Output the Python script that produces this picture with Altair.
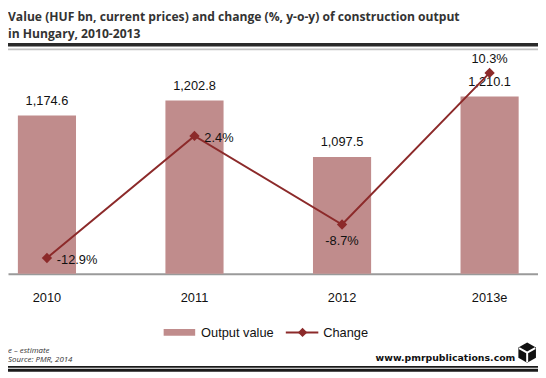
import altair as alt
import pandas as pd

# ---- data ----
years = ["2010", "2011", "2012", "2013e"]
output_value = [1174.6, 1202.8, 1097.5, 1210.1]
change_pct = [-12.9, 2.4, -8.7, 10.3]

title_lines = [
    "Value (HUF bn, current prices) and change (%, y-o-y) of construction output",
    "in Hungary, 2010-2013",
]
legend_labels = ["Output value", "Change"]
footnotes = ["e \u2013 estimate", "Source: PMR, 2014"]
site = "www.pmrpublications.com"

df = pd.DataFrame({
    "year": years,
    "value": output_value,
    "change": change_pct,
    "lbl": [f"{v:.1f}%" for v in change_pct],
})

BAR = "#C08C8C"
LINE = "#8C2A2A"
FONT = "Liberation Sans"

W, H = 538, 227
bar_min = 880
bar_dom = [bar_min, 1296.5]
chg_dom = [-14.88, 13.15]

xenc = alt.X(
    "year:N",
    sort=years,
    scale=alt.Scale(paddingInner=0.606, paddingOuter=0.099, align=0.338),
    axis=alt.Axis(
        title=None, labelAngle=0, ticks=False, tickSize=0, grid=False,
        domainColor="#9a9a9a", domainWidth=2, labelPadding=18,
        labelFont=FONT, labelFontSize=13, labelColor="#111",
    ),
)
ybar = alt.Y("value:Q", scale=alt.Scale(domain=bar_dom, nice=False, zero=False), axis=None)
ychg = alt.Y("change:Q", scale=alt.Scale(domain=chg_dom, nice=False, zero=False), axis=None)

base = alt.Chart(df)

bars = base.mark_bar(color=BAR).encode(x=xenc, y=ybar, y2=alt.datum(bar_min))
bar_text = base.mark_text(
    baseline="middle", dy=-15, font=FONT, fontSize=13, color="#111"
).encode(x=xenc, y=ybar, text=alt.Text("value:Q", format=",.1f"))

line = base.mark_line(color=LINE, strokeWidth=2).encode(x=xenc, y=ychg)
pts = base.mark_point(shape="diamond", filled=True, size=110, color=LINE, opacity=1).encode(x=xenc, y=ychg)

lab_right = base.transform_filter(
    alt.FieldOneOfPredicate(field="year", oneOf=[years[0], years[1]])
).mark_text(align="left", baseline="middle", dx=10, dy=2, font=FONT, fontSize=13, color="#111").encode(
    x=xenc, y=ychg, text="lbl:N")
lab_below = base.transform_filter(
    alt.FieldEqualPredicate(field="year", equal=years[2])
).mark_text(align="center", baseline="middle", dy=17, font=FONT, fontSize=13, color="#111").encode(
    x=xenc, y=ychg, text="lbl:N")
lab_above = base.transform_filter(
    alt.FieldEqualPredicate(field="year", equal=years[3])
).mark_text(align="center", baseline="middle", dy=-14, font=FONT, fontSize=13, color="#111").encode(
    x=xenc, y=ychg, text="lbl:N")

one = alt.Chart(pd.DataFrame({"k": [0]}))

# title & frame lines
t1 = one.mark_text(text=title_lines[0], align="left", baseline="middle", font="Open Sans",
                   fontWeight="bold", fontSize=12.3, color="#333").encode(x=alt.value(0), y=alt.value(-33.5))
t2 = one.mark_text(text=title_lines[1], align="left", baseline="middle", font="Open Sans",
                   fontWeight="bold", fontSize=12.3, color="#333").encode(x=alt.value(0), y=alt.value(-16.5))
top_thick = one.mark_rule(color="#2a2a2a", strokeWidth=3.5).encode(
    x=alt.value(0), x2=alt.value(W), y=alt.value(-5.5))
top_thin = one.mark_rule(color="#c4c4c4", strokeWidth=2).encode(
    x=alt.value(0), x2=alt.value(W), y=alt.value(-0.8))

# legend
leg_rect = one.mark_rect(color=BAR).encode(
    x=alt.value(158), x2=alt.value(190), y=alt.value(283), y2=alt.value(290))
leg_t1 = one.mark_text(text=legend_labels[0], align="left", baseline="middle", font=FONT,
                       fontSize=13, color="#111").encode(x=alt.value(196), y=alt.value(287))
leg_line = one.mark_rule(color=LINE, strokeWidth=2).encode(
    x=alt.value(282), x2=alt.value(315), y=alt.value(286.5))
leg_pt = one.mark_point(shape="diamond", filled=True, size=90, color=LINE, opacity=1).encode(
    x=alt.value(299), y=alt.value(286.5))
leg_t2 = one.mark_text(text=legend_labels[1], align="left", baseline="middle", font=FONT,
                       fontSize=13, color="#111").encode(x=alt.value(320), y=alt.value(287))

# footer
f1 = one.mark_text(text=footnotes[0], align="left", baseline="middle", font="Open Sans",
                   fontStyle="italic", fontSize=8, color="#333").encode(x=alt.value(0), y=alt.value(305))
f2 = one.mark_text(text=footnotes[1], align="left", baseline="middle", font="Open Sans",
                   fontStyle="italic", fontSize=8, color="#333").encode(x=alt.value(0), y=alt.value(315))
site_t = one.mark_text(text=site, align="right", baseline="middle", font="DejaVu Sans",
                       fontWeight="bold", fontSize=9.5, color="#111").encode(x=alt.value(515), y=alt.value(313))
logo = one.mark_point(shape="M0,-1L0.87,-0.5L0.87,0.5L0,1L-0.87,0.5L-0.87,-0.5Z", filled=True,
                      size=420, color="#111", opacity=1).encode(x=alt.value(527), y=alt.value(307))
logo_y = one.mark_point(shape="M0,0L0,0.95M0,0L-0.8,-0.45M0,0L0.8,-0.45", filled=False,
                        size=420, color="#fff", strokeWidth=2, opacity=1).encode(
    x=alt.value(527), y=alt.value(307))
bot_thin = one.mark_rule(color="#1a1a1a", strokeWidth=1.6).encode(
    x=alt.value(0), x2=alt.value(W), y=alt.value(321.5))
bot_thick = one.mark_rule(color="#1a1a1a", strokeWidth=3).encode(
    x=alt.value(0), x2=alt.value(W), y=alt.value(325))

chart = alt.layer(
    bars, bar_text, line, pts, lab_right, lab_below, lab_above,
    t1, t2, top_thick, top_thin,
    leg_rect, leg_t1, leg_line, leg_pt, leg_t2,
    f1, f2, site_t, logo, logo_y, bot_thin, bot_thick,
).resolve_scale(y="independent").properties(
    width=W, height=H,
    autosize=alt.AutoSizeParams(type="none"),
    padding={"left": 0, "top": 40, "right": 0, "bottom": 103},
    background="white",
).configure_view(stroke=None)

chart.save("out.html", embed_options={"renderer": "svg", "actions": False})
